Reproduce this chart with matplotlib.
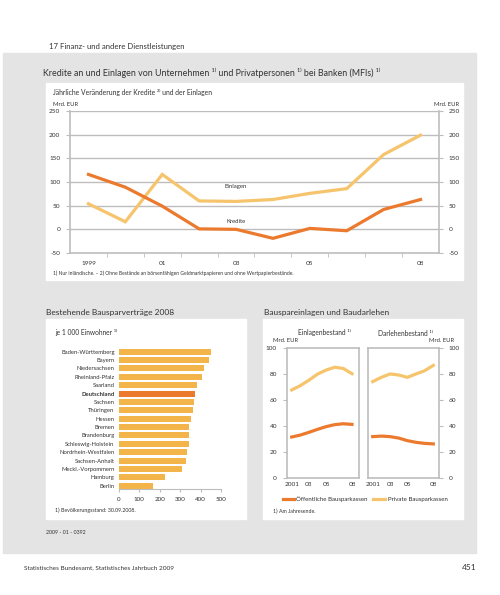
import matplotlib
matplotlib.use("Agg")
import matplotlib.pyplot as plt
from matplotlib.patches import Rectangle
import numpy as np

plt.rcParams["font.family"] = ["Lato", "DejaVu Sans"]
plt.rcParams["axes.unicode_minus"] = False

# --- data ---------------------------------------------------------------
years_top = [1999, 2000, 2001, 2002, 2003, 2004, 2005, 2006, 2007, 2008]
kredite = [116, 89, 49, 1, 0, -19, 2, -3, 42, 63]
einlagen = [54, 16, 116, 60, 59, 63, 76, 86, 158, 199]
top_tick_years = [1999, 2001, 2003, 2005, 2008]
top_tick_labels = ["1999", "01", "03", "05", "08"]

laender = ["Baden-Württemberg", "Bayern", "Niedersachsen", "Rheinland-Pfalz",
           "Saarland", "Deutschland", "Sachsen", "Thüringen", "Hessen", "Bremen",
           "Brandenburg", "Schleswig-Holstein", "Nordrhein-Westfalen",
           "Sachsen-Anhalt", "Meckl.-Vorpommern", "Hamburg", "Berlin"]
vertraege = [450, 440, 416, 406, 381, 370, 365, 360, 351, 343,
             343, 343, 331, 326, 307, 226, 166]

years_bs = [2001, 2002, 2003, 2004, 2005, 2006, 2007, 2008]
einl_oeff = [31.3, 32.8, 34.9, 37.2, 39.3, 40.8, 41.5, 41.0]
einl_priv = [67.5, 70.8, 75.0, 79.7, 82.8, 85.0, 84.0, 80.0]
darl_oeff = [31.6, 32.0, 31.6, 30.5, 28.5, 27.2, 26.4, 26.0]
darl_priv = [73.9, 77.2, 79.8, 79.0, 77.2, 79.8, 82.3, 86.4]
bs_tick_years = [2001, 2003, 2005, 2008]
bs_tick_labels = ["2001", "03", "05", "08"]

DARK = "#EC7A2E"
LIGHT = "#F6C46C"
BAR = "#F3B54A"
GRID = "#BDBDBD"
TXT = "#333333"

W, H = 500, 595
fig = plt.figure(figsize=(W / 100, H / 100), dpi=100)


def box(x0, y0, x1, y1):
    return [x0 / W, 1 - y1 / H, (x1 - x0) / W, (y1 - y0) / H]


def txt(x, y, s, **kw):
    kw.setdefault("color", TXT)
    kw.setdefault("va", "center")
    fig.text(x / W, 1 - y / H, s, **kw)


def rect(x0, y0, x1, y1, color):
    fig.patches.append(Rectangle((x0 / W, 1 - y1 / H), (x1 - x0) / W, (y1 - y0) / H,
                                 transform=fig.transFigure, color=color, zorder=-2))


rect(3, 53, 476, 553, "#E4E4E4")
rect(46, 83, 463, 280, "white")
rect(46, 319, 246, 519, "white")
rect(263, 319, 463, 519, "white")

txt(49, 46, "17 Finanz- und andere Dienstleistungen", fontsize=5.6)
txt(43, 73, "Kredite an und Einlagen von Unternehmen ¹⁾ und Privatpersonen ¹⁾ bei Banken (MFIs) ¹⁾",
    fontsize=6.4)
txt(53, 92, "Jährliche Veränderung der Kredite ²⁾ und der Einlagen", fontsize=4.9)
txt(53, 105, "Mrd. EUR", fontsize=4.2)
txt(459, 105, "Mrd. EUR", fontsize=4.2, ha="right")
txt(53, 273, "1) Nur inländische. – 2) Ohne Bestände an börsenfähigen Geldmarktpapieren "
    "und ohne Wertpapierbestände.", fontsize=3.6)

# --- top chart ----------------------------------------------------------
ax = fig.add_axes(box(70, 111, 439, 253))
ax.set_facecolor("none")
ax.plot(years_top, einlagen, color=LIGHT, lw=2.3, solid_joinstyle="miter", zorder=3)
ax.plot(years_top, kredite, color=DARK, lw=2.3, solid_joinstyle="miter", zorder=3)
ax.set_xlim(1998.5, 2008.5)
ax.set_ylim(-50, 250)
for v in range(0, 251, 50):
    ax.axhline(v, color=GRID, lw=1, zorder=1)
ax.set_yticks(range(-50, 251, 50))
ax.tick_params(axis="y", labelsize=4.6, colors=GRID, labelcolor=TXT, length=3,
               left=True, right=True, labelleft=True, labelright=True, pad=4)
ax.set_xticks(top_tick_years, top_tick_labels)
ax.set_xticks(np.arange(1999.5, 2008.5, 1), minor=True)
ax.tick_params(axis="x", which="major", length=0, labelsize=4.6, labelcolor=TXT, pad=6)
ax.tick_params(axis="x", which="minor", length=3, colors=GRID)
for s in ["left", "right", "bottom"]:
    ax.spines[s].set_color(GRID)
    ax.spines[s].set_linewidth(1.2)
ax.spines["top"].set_visible(False)
ax.text(2003.0, 88, "Einlagen", fontsize=4.3, color=TXT, ha="center")
ax.text(2003.0, 13, "Kredite", fontsize=4.3, color=TXT, ha="center")

# --- bar chart ----------------------------------------------------------
txt(46, 312, "Bestehende Bausparverträge 2008", fontsize=6)
txt(55, 333, "je 1 000 Einwohner ¹⁾", fontsize=4.8)
bx = fig.add_axes(box(118.7, 346.7, 221.3, 489.3))
bx.set_facecolor("none")
ypos = np.arange(len(laender))
colors = [DARK if n == "Deutschland" else BAR for n in laender]
bx.barh(ypos, vertraege, height=0.72, color=colors)
bx.set_xlim(0, 500)
bx.set_ylim(len(laender) - 0.57, -0.6)
bx.set_yticks(ypos, laender)
for lab in bx.get_yticklabels():
    if lab.get_text() == "Deutschland":
        lab.set_fontweight("bold")
bx.tick_params(axis="y", length=0, labelsize=4.2, labelcolor=TXT, pad=3)
bx.set_xticks(range(0, 501, 100))
bx.tick_params(axis="x", length=2.5, colors=GRID, labelcolor=TXT, labelsize=4.5, pad=3)
for s in ["left", "right", "top"]:
    bx.spines[s].set_visible(False)
bx.spines["bottom"].set_color(GRID)
txt(55, 510, "1) Bevölkerungsstand: 30.09.2008.", fontsize=3.8)
txt(46, 532, "2009 - 01 - 0392", fontsize=3.8)

# --- bauspar line charts ------------------------------------------------
txt(264, 312, "Bauspareinlagen und Baudarlehen", fontsize=6)
txt(324, 333, "Einlagenbestand ¹⁾", fontsize=4.8, ha="center")
txt(405, 333, "Darlehenbestand ¹⁾", fontsize=4.8, ha="center")
txt(273, 341, "Mrd. EUR", fontsize=4.2)
txt(454, 341, "Mrd. EUR", fontsize=4.2, ha="right")

panels = [
    (box(286.7, 347.7, 359.3, 477.7), (2000.42, 2008.85), einl_oeff, einl_priv, "left"),
    (box(368, 347.7, 438.7, 477.7), (2000.46, 2008.62), darl_oeff, darl_priv, "right"),
]
for pos, xl, oeff, priv, side in panels:
    a = fig.add_axes(pos)
    a.set_facecolor("none")
    a.plot(years_bs, priv, color=LIGHT, lw=2.3)
    a.plot(years_bs, oeff, color=DARK, lw=2.3)
    a.set_xlim(*xl)
    a.set_ylim(0, 100)
    a.set_yticks(range(0, 101, 20))
    a.tick_params(axis="y", labelsize=4.6, colors=GRID, labelcolor=TXT, length=3,
                  left=(side == "left"), labelleft=(side == "left"),
                  right=(side == "right"), labelright=(side == "right"), pad=4)
    a.set_xticks(bs_tick_years, bs_tick_labels)
    a.tick_params(axis="x", length=0, labelsize=4.6, labelcolor=TXT, pad=3)
    for s in a.spines.values():
        s.set_color(GRID)
        s.set_linewidth(1.2)

lg = fig.add_axes(box(270, 492, 460, 506))
lg.axis("off")
lg.set_xlim(270, 460)
lg.set_ylim(0, 1)
lg.plot([283, 294], [0.5, 0.5], color=DARK, lw=2.3)
lg.plot([373, 385], [0.5, 0.5], color=LIGHT, lw=2.3)
lg.text(296, 0.5, "Öffentliche Bausparkassen", fontsize=4.4, color=TXT, va="center")
lg.text(388, 0.5, "Private Bausparkassen", fontsize=4.4, color=TXT, va="center")
txt(273, 511, "1) Am Jahresende.", fontsize=3.8)

# --- footer -------------------------------------------------------------
txt(24, 568, "Statistisches Bundesamt, Statistisches Jahrbuch 2009", fontsize=4.6)
txt(476, 568, "451", fontsize=6, ha="right")

fig.savefig("out.png", dpi=100)
